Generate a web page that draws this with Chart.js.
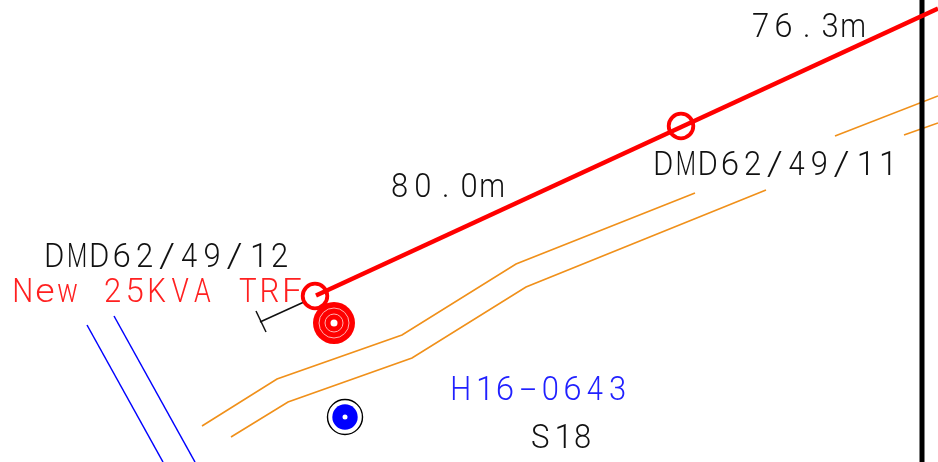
<!DOCTYPE html>
<html><head><meta charset="utf-8">
<style>html,body{margin:0;padding:0;background:#fff}canvas{display:block}</style>
<script src="https://cdn.jsdelivr.net/npm/chart.js@4"></script>
</head><body><canvas id="c" width="938" height="462"></canvas>
<script>
const redCable = [{x:316,y:295.5},{x:938,y:8.6}];
const boundary = [{x:922,y:0},{x:922,y:462}];
const blueA = [{x:87,y:325},{x:163,y:462}];
const blueB = [{x:114,y:316},{x:195,y:462}];
const orangeA = [{x:202,y:426},{x:277,y:379},{x:402,y:335},{x:516,y:264},{x:695,y:193}];
const orangeB = [{x:231,y:437},{x:288,y:402},{x:412,y:358},{x:526,y:287},{x:766,y:190}];
const orangeC = [{x:835,y:136},{x:938,y:96}];
const orangeD = [{x:904,y:135},{x:938,y:123}];
const stayLine = [{x:304,y:302},{x:260,y:322}];
const stayBar = [{x:256,y:311},{x:266,y:332}];
const poles = [{x:681,y:126},{x:315,y:296}];
const transformer = [{x:334,y:323}];
const substation = [{x:345,y:417}];
const labelTexts = ['76.3m','DMD62/49/11','80.0m','DMD62/49/12','New 25KVA TRF','H16-0643','S18'];
const labelLeft  = [753,655,392,46,14,452,532];
const labelRight = [864,891,503,287,301,625,590];
const labelBase  = [37,175,197,267,302,400,448];
const labelColors = ['#111','#111','#111','#111','#ff2020','#2020ff','#111'];

const line = (data,color,w)=>({type:'line',data,borderColor:color,borderWidth:w,pointRadius:0,fill:false,tension:0,borderCapStyle:'butt'});
const dot = (data,r,fillC,strokeC,w)=>({type:'scatter',data,pointRadius:r,pointBackgroundColor:fillC,pointBorderColor:strokeC,pointBorderWidth:w,pointHoverRadius:r,showLine:false});

const glyphWidth = c => c==='m' ? 22 : c==='w' ? 19 : (c==='/'||c==='-') ? 16 : /[02-9]/.test(c) ? 15 : 17;

const textPlugin = {id:'cadText',afterDatasetsDraw(chart){
  const {ctx,scales:{x,y}} = chart;
  ctx.save();
  ctx.font = '300 33px Roboto';
  ctx.textBaseline = 'alphabetic';
  const inkOf = c => { const m = ctx.measureText(c); return {l:m.actualBoundingBoxLeft, w:m.actualBoundingBoxLeft+m.actualBoundingBoxRight}; };
  const fit = c => { const w = inkOf(c).w; return (c==='.'||c==='1'||c===' '||w<=0) ? 1 : glyphWidth(c)/w; };
  labelTexts.forEach((t,i)=>{
    const chars = Array.from(t);
    const left = x.getPixelForValue(labelLeft[i]), right = x.getPixelForValue(labelRight[i]);
    const end = chars[chars.length-1];
    const first = left + inkOf(chars[0]).w*fit(chars[0])/2;
    const last = right - inkOf(end).w*fit(end)/2;
    const pitch = (last-first)/(chars.length-1);
    ctx.fillStyle = labelColors[i];
    chars.forEach((c,k)=>{
      const ink = inkOf(c), sx = fit(c);
      ctx.save();
      ctx.translate(first + k*pitch, y.getPixelForValue(labelBase[i]));
      ctx.scale(sx,1);
      ctx.fillText(c, -ink.w/2 + ink.l, 0);
      ctx.restore();
    });
  });
  ctx.restore();
}};

new Chart(document.getElementById('c'),{
  type:'scatter',
  data:{datasets:[
    dot(substation,2.5,'#fff','#fff',0),
    dot(substation,12.7,'#0000ff','#0000ff',0),
    dot(substation,17.5,'#fff','#000',1.4),
    dot(transformer,3.5,'#fff','#fff',0),
    dot(transformer,9,'rgba(0,0,0,0)','#ffb0b0',1),
    dot(transformer,15,'rgba(0,0,0,0)','#ffb0b0',1),
    dot(transformer,21,'#ff0000','#ff0000',0),
    dot(poles,12.3,'rgba(0,0,0,0)','#ff0000',3.8),
    line(redCable,'#ff0000',4.5),
    line(boundary,'#000000',5),
    line(stayLine,'#111',1.5),
    line(stayBar,'#111',1.5),
    line(blueA,'#0000ff',1.5),
    line(blueB,'#0000ff',1.5),
    line(orangeA,'#f0901a',1.6),
    line(orangeB,'#f0901a',1.6),
    line(orangeC,'#f0901a',1.6),
    line(orangeD,'#f0901a',1.6)
  ]},
  options:{
    responsive:false,animation:false,devicePixelRatio:1,
    layout:{padding:0,autoPadding:false},
    plugins:{legend:{display:false},tooltip:{enabled:false}},
    scales:{
      x:{type:'linear',min:0,max:938,display:false},
      y:{type:'linear',min:0,max:462,reverse:true,display:false}
    }
  },
  plugins:[textPlugin]
});
</script></body></html>
